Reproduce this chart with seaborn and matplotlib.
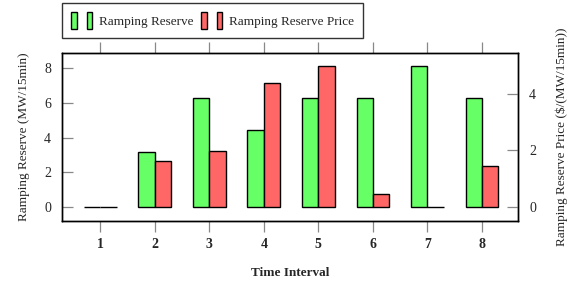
import numpy as np
import pandas as pd
import matplotlib
matplotlib.use("Agg")
import matplotlib.pyplot as plt
from matplotlib.patches import Patch
from matplotlib.legend_handler import HandlerTuple
import seaborn as sns

# ---------------------------------------------------------------------
# Data
# ---------------------------------------------------------------------
intervals = ["1", "2", "3", "4", "5", "6", "7", "8"]
reserve = [0.0, 3.15, 6.25, 4.45, 6.25, 6.25, 8.1, 6.25]      # MW/15min
price = [0.0, 1.62, 1.98, 4.38, 4.98, 0.46, 0.0, 1.45]         # $/(MW/15min)

series = ["Ramping Reserve", "Ramping Reserve Price"]
green = "#66FF66"
red = "#FF6666"

nan = [np.nan] * len(intervals)
# left axis gets the reserve bars, right axis the price bars; the other
# series is left empty so the hue dodging keeps both slots
df_left = pd.DataFrame({"Interval": intervals * 2, "value": reserve + nan,
                        "series": [series[0]] * 8 + [series[1]] * 8})
df_right = pd.DataFrame({"Interval": intervals * 2, "value": nan + price,
                         "series": [series[0]] * 8 + [series[1]] * 8})

# ---------------------------------------------------------------------
# Figure
# ---------------------------------------------------------------------
sns.set_theme(style="ticks")
plt.rcParams["font.family"] = ["Liberation Serif", "DejaVu Serif"]

fig = plt.figure(figsize=(5.78, 2.84), dpi=100)
ax = fig.add_axes([62 / 578, 1 - 221 / 284, (518 - 62) / 578, (221 - 53) / 284])
ax2 = ax.twinx()

pal = {series[0]: green, series[1]: red}
kw = dict(x="Interval", y="value", hue="series", hue_order=series, order=intervals,
          palette=pal, width=0.6, edgecolor="black", linewidth=1.0,
          saturation=1, errorbar=None, legend=False)
sns.barplot(data=df_left, ax=ax, **kw)
sns.barplot(data=df_right, ax=ax2, **kw)

ax.set_xlim(-0.7, 7.66)
ax.set_ylim(-0.8, 8.86)
ax2.set_ylim(-0.49, 5.44)
ax.set_yticks([0, 2, 4, 6, 8])
ax2.set_yticks([0, 2, 4])

ax.set_xlabel("Time Interval", fontsize=9.5, fontweight="bold", labelpad=12)
ax.set_ylabel("Ramping Reserve (MW/15min)", fontsize=9.5, labelpad=10)
ax2.set_ylabel(r"Ramping Reserve Price (\$/(MW/15min))", fontsize=9.5, labelpad=14)
ax2.set_xlabel("")

tick_col = "#888888"
ax.tick_params(axis="x", which="both", direction="out", length=8, width=0.9,
               color=tick_col, top=True, bottom=True, labelsize=10, pad=4)
for lab in ax.get_xticklabels():
    lab.set_fontweight("bold")
ax.tick_params(axis="y", direction="in", length=8, width=0.9, color=tick_col,
               left=True, right=False, labelsize=10, pad=8)
ax2.tick_params(axis="y", direction="in", length=8, width=0.9, color=tick_col,
                left=False, right=True, labelsize=10, pad=8)
ax2.tick_params(axis="x", top=False, bottom=False)

for a in (ax, ax2):
    for sp in a.spines.values():
        sp.set_visible(True)
        sp.set_color("black")
        sp.set_linewidth(1.0)

# pgfplots-style legend: two small boxes per entry
handles = [
    (Patch(facecolor=green, edgecolor="black"), Patch(facecolor=green, edgecolor="black")),
    (Patch(facecolor=red, edgecolor="black"), Patch(facecolor=red, edgecolor="black")),
]
leg = fig.legend(handles, series, handler_map={tuple: HandlerTuple(ndivide=None, pad=0.8)},
                 loc="upper left", bbox_to_anchor=(62 / 578, 1 - 3 / 284), ncol=2,
                 fontsize=9.5, frameon=True, fancybox=False, handlelength=1.6,
                 handleheight=1.6, columnspacing=0.6, handletextpad=0.5,
                 borderpad=0.7, borderaxespad=0)
leg.get_frame().set_edgecolor("black")
leg.get_frame().set_linewidth(1.0)

fig.savefig("out.png", dpi=100)
